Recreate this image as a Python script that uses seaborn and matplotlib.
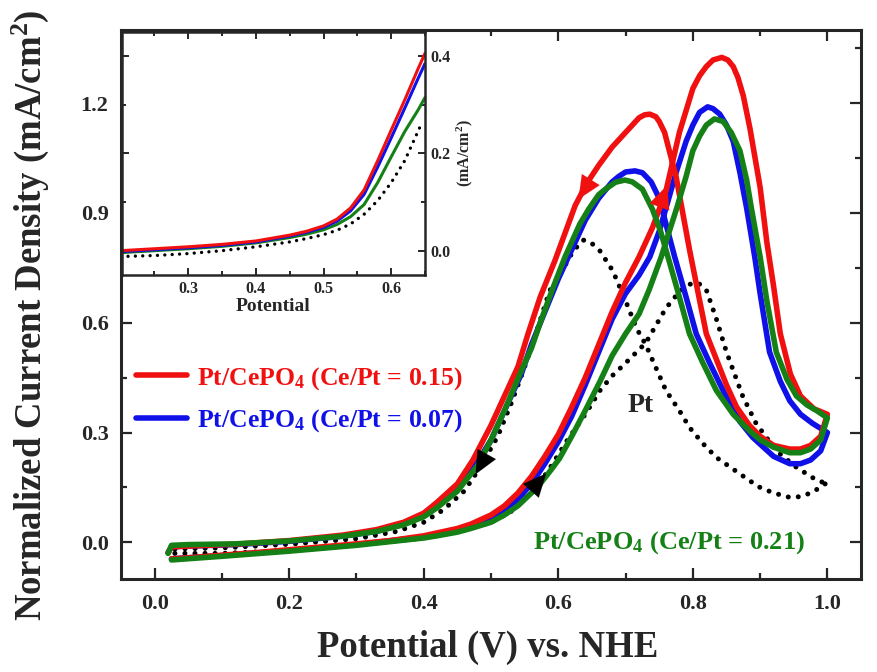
import numpy as np
import pandas as pd
import matplotlib
matplotlib.use('Agg')
import matplotlib.pyplot as plt
from matplotlib.lines import Line2D
from matplotlib.ticker import MultipleLocator
import seaborn as sns

sns.set_style('ticks')
plt.rcParams['font.family'] = ['Liberation Serif', 'DejaVu Serif']
plt.rcParams['font.weight'] = 'bold'
plt.rcParams['mathtext.fontset'] = 'custom'
plt.rcParams['mathtext.rm'] = 'Liberation Serif:bold'
plt.rcParams['mathtext.bf'] = 'Liberation Serif:bold'
plt.rcParams['mathtext.it'] = 'Liberation Serif:italic:bold'
plt.rcParams['mathtext.default'] = 'bf'

# ---- main CV data (potential V vs NHE, normalized current) ----
# Pt/CePO4 (Ce/Pt = 0.15)
red_fwd_x = [0.025, 0.05, 0.10, 0.15, 0.20, 0.25, 0.30, 0.35, 0.40, 0.42, 0.45, 0.47, 0.50, 0.52,
             0.54, 0.56, 0.58, 0.60, 0.62, 0.64, 0.66, 0.68, 0.70, 0.72, 0.74, 0.76, 0.78, 0.80,
             0.81, 0.82, 0.83, 0.843, 0.852, 0.86, 0.867, 0.875, 0.885, 0.90, 0.91, 0.92, 0.93,
             0.945, 0.96, 0.98, 1.0]
red_fwd_y = [-0.045, -0.042, -0.035, -0.028, -0.02, -0.012, -0.004, 0.005, 0.018, 0.026, 0.038,
             0.05, 0.075, 0.10, 0.135, 0.18, 0.235, 0.295, 0.37, 0.45, 0.54, 0.63, 0.71, 0.78,
             0.86, 0.96, 1.12, 1.24, 1.275, 1.30, 1.318, 1.325, 1.318, 1.30, 1.27, 1.22, 1.13,
             0.97, 0.82, 0.70, 0.57, 0.46, 0.40, 0.365, 0.35]
red_rev_x = [1.0, 0.99, 0.975, 0.96, 0.944, 0.92, 0.90, 0.884, 0.865, 0.85, 0.835, 0.82, 0.808,
             0.795, 0.785, 0.775, 0.765, 0.758, 0.75, 0.745, 0.736, 0.728, 0.72, 0.70, 0.68, 0.66,
             0.642, 0.625, 0.613, 0.595, 0.573, 0.555, 0.54, 0.52, 0.50, 0.473, 0.45, 0.42, 0.40,
             0.37, 0.33, 0.28, 0.20, 0.12, 0.05, 0.025, 0.02]
red_rev_y = [0.35, 0.29, 0.265, 0.255, 0.255, 0.265, 0.29, 0.32, 0.37, 0.43, 0.50, 0.57, 0.68,
             0.80, 0.90, 1.00, 1.07, 1.12, 1.15, 1.163, 1.17, 1.168, 1.16, 1.12, 1.08, 1.03,
             0.98, 0.92, 0.86, 0.77, 0.67, 0.57, 0.48, 0.40, 0.32, 0.225, 0.16, 0.11, 0.08,
             0.055, 0.035, 0.02, 0.005, -0.005, -0.01, -0.012, -0.028]

# Pt/CePO4 (Ce/Pt = 0.07)
blue_fwd_x = [0.025, 0.10, 0.20, 0.30, 0.40, 0.42, 0.45, 0.47, 0.50, 0.52, 0.54, 0.56, 0.58, 0.60,
              0.62, 0.64, 0.66, 0.68, 0.70, 0.72, 0.736, 0.75, 0.76, 0.775, 0.79, 0.80, 0.81,
              0.822, 0.83, 0.84, 0.85, 0.86, 0.87, 0.88, 0.892, 0.90, 0.914, 0.93, 0.944, 0.96,
              0.978, 1.0]
blue_fwd_y = [-0.045, -0.036, -0.022, -0.006, 0.015, 0.022, 0.033, 0.045, 0.065, 0.087, 0.118,
              0.16, 0.215, 0.275, 0.345, 0.43, 0.52, 0.61, 0.68, 0.73, 0.78, 0.85, 0.913, 1.01,
              1.096, 1.14, 1.175, 1.19, 1.185, 1.17, 1.14, 1.096, 1.01, 0.913, 0.78, 0.68, 0.52,
              0.44, 0.387, 0.35, 0.325, 0.30]
blue_rev_x = [1.0, 0.99, 0.975, 0.96, 0.944, 0.92, 0.905, 0.889, 0.87, 0.845, 0.825, 0.805, 0.79,
              0.773, 0.76, 0.75, 0.738, 0.725, 0.714, 0.70, 0.69, 0.68, 0.66, 0.64, 0.62, 0.60,
              0.58, 0.56, 0.545, 0.52, 0.50, 0.48, 0.45, 0.42, 0.40, 0.37, 0.33, 0.28, 0.20, 0.12,
              0.05, 0.025, 0.02]
blue_rev_y = [0.30, 0.25, 0.225, 0.215, 0.215, 0.235, 0.26, 0.287, 0.33, 0.415, 0.49, 0.57, 0.67,
              0.78, 0.87, 0.94, 0.985, 1.01, 1.015, 1.012, 1.0, 0.985, 0.94, 0.88, 0.80, 0.72,
              0.63, 0.54, 0.46, 0.36, 0.28, 0.22, 0.15, 0.10, 0.075, 0.05, 0.03, 0.017, 0.003,
              -0.006, -0.01, -0.012, -0.028]

# Pt/CePO4 (Ce/Pt = 0.21)
green_fwd_x = [0.025, 0.10, 0.20, 0.30, 0.40, 0.42, 0.45, 0.47, 0.50, 0.52, 0.54, 0.56, 0.573,
               0.59, 0.602, 0.62, 0.64, 0.662, 0.68, 0.70, 0.72, 0.735, 0.753, 0.765, 0.776, 0.79,
               0.80, 0.81, 0.82, 0.832, 0.845, 0.857, 0.87, 0.88, 0.887, 0.90, 0.91, 0.924, 0.94,
               0.954, 0.97, 0.984, 1.0]
green_fwd_y = [-0.048, -0.038, -0.024, -0.008, 0.012, 0.018, 0.028, 0.038, 0.055, 0.075, 0.10,
               0.135, 0.16, 0.20, 0.23, 0.29, 0.36, 0.44, 0.51, 0.57, 0.624, 0.69, 0.78, 0.85,
               0.913, 1.0, 1.07, 1.11, 1.14, 1.157, 1.15, 1.12, 1.07, 0.99, 0.913, 0.78, 0.66,
               0.52, 0.445, 0.40, 0.375, 0.36, 0.34]
green_rev_x = [1.0, 0.99, 0.975, 0.96, 0.944, 0.92, 0.90, 0.884, 0.86, 0.835, 0.815, 0.795, 0.777,
               0.763, 0.752, 0.74, 0.725, 0.71, 0.699, 0.685, 0.67, 0.66, 0.645, 0.632, 0.61,
               0.592, 0.575, 0.56, 0.543, 0.52, 0.50, 0.48, 0.45, 0.42, 0.40, 0.37, 0.33, 0.28,
               0.20, 0.12, 0.05, 0.025, 0.02]
green_rev_y = [0.34, 0.28, 0.255, 0.245, 0.245, 0.26, 0.28, 0.305, 0.35, 0.415, 0.49, 0.57, 0.69,
               0.78, 0.85, 0.91, 0.965, 0.985, 0.99, 0.984, 0.965, 0.95, 0.91, 0.87, 0.78, 0.695,
               0.61, 0.53, 0.46, 0.36, 0.28, 0.21, 0.14, 0.095, 0.07, 0.048, 0.03, 0.017, 0.004,
               -0.004, -0.006, -0.008, -0.03]

# Pt
pt_fwd_x = [0.03, 0.10, 0.20, 0.30, 0.40, 0.45, 0.50, 0.53, 0.55, 0.573, 0.59, 0.613, 0.64, 0.662,
            0.68, 0.70, 0.73, 0.76, 0.78, 0.795, 0.807, 0.82, 0.835, 0.85, 0.862, 0.874, 0.894,
            0.924, 0.954, 0.984, 1.0]
pt_fwd_y = [-0.03, -0.03, -0.022, -0.008, 0.012, 0.028, 0.055, 0.085, 0.12, 0.164, 0.21, 0.278,
            0.35, 0.415, 0.455, 0.49, 0.545, 0.64, 0.685, 0.705, 0.71, 0.69, 0.61, 0.52, 0.46,
            0.40, 0.325, 0.25, 0.205, 0.17, 0.16]
pt_rev_x = [1.0, 0.978, 0.96, 0.944, 0.92, 0.90, 0.884, 0.86, 0.835, 0.815, 0.795, 0.78, 0.76,
            0.73, 0.716, 0.70, 0.681, 0.662, 0.648, 0.637, 0.622, 0.605, 0.587, 0.568, 0.548,
            0.53, 0.51, 0.484, 0.46, 0.43, 0.40, 0.36, 0.30, 0.20, 0.10, 0.03]
pt_rev_y = [0.164, 0.137, 0.125, 0.123, 0.135, 0.15, 0.169, 0.20, 0.232, 0.27, 0.314, 0.36, 0.415,
            0.54, 0.586, 0.66, 0.742, 0.796, 0.82, 0.826, 0.796, 0.74, 0.687, 0.578, 0.469,
            0.38, 0.29, 0.205, 0.14, 0.09, 0.055, 0.03, 0.01, -0.005, -0.015, -0.018]

# ---- inset: forward scan onset (mA/cm2) ----
inset_x = [0.20, 0.25, 0.30, 0.35, 0.40, 0.45, 0.475, 0.50, 0.52, 0.54, 0.56, 0.58, 0.60, 0.62,
           0.64, 0.65]
inset_red = [0.0, 0.004, 0.008, 0.013, 0.02, 0.032, 0.04, 0.051, 0.065, 0.088, 0.125, 0.185,
             0.248, 0.31, 0.375, 0.406]
inset_blue = [-0.002, 0.002, 0.006, 0.011, 0.018, 0.03, 0.038, 0.048, 0.061, 0.082, 0.116, 0.172,
              0.232, 0.293, 0.355, 0.385]
inset_green = [-0.004, 0.0, 0.004, 0.009, 0.016, 0.027, 0.034, 0.043, 0.054, 0.07, 0.095, 0.14,
               0.193, 0.245, 0.29, 0.315]
inset_pt_x = [0.20, 0.25, 0.30, 0.35, 0.40, 0.45, 0.475, 0.50, 0.52, 0.54, 0.56, 0.58, 0.60, 0.62,
              0.645]
inset_pt = [-0.012, -0.01, -0.006, 0.0, 0.008, 0.018, 0.025, 0.033, 0.042, 0.055, 0.075, 0.103,
            0.14, 0.185, 0.262]

RED, BLUE, GREEN = '#f01010', '#1010e8', '#158015'


def cycle(fx, fy, rx, ry):
    return pd.DataFrame({'E': fx + rx, 'j': fy + ry})


def arrow_on(ax, bx, by, x_tip, x_tail, color):
    # arrowhead sitting on a sweep, direction taken from the curve itself
    bx = np.asarray(bx)
    by = np.asarray(by)
    o = np.argsort(bx)
    tip = (x_tip, np.interp(x_tip, bx[o], by[o]))
    tail = (x_tail, np.interp(x_tail, bx[o], by[o]))
    ax.annotate('', xy=tip, xytext=tail, zorder=6,
                arrowprops=dict(arrowstyle='-|>,head_length=1.1,head_width=0.5',
                                mutation_scale=15, color=color, lw=0.1,
                                shrinkA=0, shrinkB=0))


fig = plt.figure(figsize=(8.77, 6.72), dpi=100)
ax = fig.add_axes([0.138, 0.1384, 0.8438, 0.817])

dot = (0, (0.01, 2.0))
sns.lineplot(data=cycle(pt_fwd_x, pt_fwd_y, pt_rev_x, pt_rev_y), x='E', y='j', sort=False,
             estimator=None, color='black', lw=3.6, linestyle=dot, dash_capstyle='round', ax=ax)
sns.lineplot(data=cycle(blue_fwd_x, blue_fwd_y, blue_rev_x, blue_rev_y), x='E', y='j', sort=False,
             estimator=None, color=BLUE, lw=4, ax=ax)
sns.lineplot(data=cycle(red_fwd_x, red_fwd_y, red_rev_x, red_rev_y), x='E', y='j', sort=False,
             estimator=None, color=RED, lw=4, ax=ax)
sns.lineplot(data=cycle(green_fwd_x, green_fwd_y, green_rev_x, green_rev_y), x='E', y='j', sort=False,
             estimator=None, color=GREEN, lw=4, ax=ax)

arrow_on(ax, red_rev_x, red_rev_y, 0.63, 0.67, RED)
arrow_on(ax, red_fwd_x, red_fwd_y, 0.762, 0.735, RED)
arrow_on(ax, pt_rev_x, pt_rev_y, 0.477, 0.515, 'black')
arrow_on(ax, pt_fwd_x, pt_fwd_y, 0.582, 0.545, 'black')

ax.set_xlim(-0.05, 1.05)
ax.set_ylim(-0.1, 1.4)
ax.xaxis.set_major_locator(MultipleLocator(0.2))
ax.xaxis.set_minor_locator(MultipleLocator(0.1))
ax.yaxis.set_major_locator(MultipleLocator(0.3))
ax.yaxis.set_minor_locator(MultipleLocator(0.15))
ax.tick_params(which='both', direction='in', top=True, right=True, width=1.6)
ax.tick_params(which='major', length=8, labelsize=16, pad=9)
ax.tick_params(which='minor', length=4)
ax.tick_params(axis='x', which='major', pad=11)
for s in ax.spines.values():
    s.set_linewidth(2.2)
ax.set_xlabel('Potential (V) vs. NHE', fontsize=26.5, fontweight='bold')
ax.set_ylabel('Normalized Current Density (mA/cm$^2$)', fontsize=26.5, fontweight='bold')
ax.xaxis.set_label_coords(0.495, -0.093)
ax.yaxis.set_label_coords(-0.095, 0.48)

ax.text(0.722, 0.374, 'Pt', fontsize=20, fontweight='bold', ha='center', va='center')
ax.text(0.765, 0.0, 'Pt/CePO$_4$ (Ce/Pt = 0.21)', color=GREEN, fontsize=19,
        fontweight='bold', ha='center', va='center')

handles = [Line2D([], [], color=RED, lw=4, solid_capstyle='round'),
           Line2D([], [], color=BLUE, lw=4, solid_capstyle='round')]
leg = ax.legend(handles, ['Pt/CePO$_4$ (Ce/Pt = 0.15)', 'Pt/CePO$_4$ (Ce/Pt = 0.07)'],
                loc='upper left', bbox_to_anchor=(0.02, 0.39), frameon=False,
                fontsize=18.5, handlelength=2.0, handletextpad=0.4, labelspacing=0.62,
                borderpad=0, borderaxespad=0)
for t, c in zip(leg.get_texts(), [RED, BLUE]):
    t.set_color(c)
    t.set_fontweight('bold')

# inset
axin = fig.add_axes([0.1391, 0.5908, 0.3455, 0.3616])
axin.set_facecolor('white')
sns.lineplot(x=inset_pt_x, y=inset_pt, sort=False, color='black', lw=2.4,
             linestyle=(0, (0.01, 2.2)), dash_capstyle='round', ax=axin)
sns.lineplot(x=inset_x, y=inset_green, sort=False, color=GREEN, lw=2.2, ax=axin)
sns.lineplot(x=inset_x, y=inset_blue, sort=False, color=BLUE, lw=2.2, ax=axin)
sns.lineplot(x=inset_x, y=inset_red, sort=False, color=RED, lw=2.2, ax=axin)
axin.set_xlim(0.202, 0.65)
axin.set_ylim(-0.05, 0.45)
axin.xaxis.set_major_locator(MultipleLocator(0.1))
axin.xaxis.set_minor_locator(MultipleLocator(0.05))
axin.yaxis.set_major_locator(MultipleLocator(0.2))
axin.yaxis.set_minor_locator(MultipleLocator(0.1))
axin.tick_params(which='both', direction='in', top=True, right=True, left=True, bottom=True,
                 labelleft=False, labelright=True, width=1.4)
axin.tick_params(which='major', length=5, labelsize=11.5, pad=4)
axin.tick_params(which='minor', length=3)
for s in axin.spines.values():
    s.set_linewidth(1.8)
axin.set_xlabel('Potential', fontsize=14, fontweight='bold', labelpad=1)
axin.yaxis.set_label_position('right')
axin.set_ylabel('(mA/cm$^2$)', fontsize=11.5, fontweight='bold', labelpad=3)

fig.savefig('out.png', dpi=100)
